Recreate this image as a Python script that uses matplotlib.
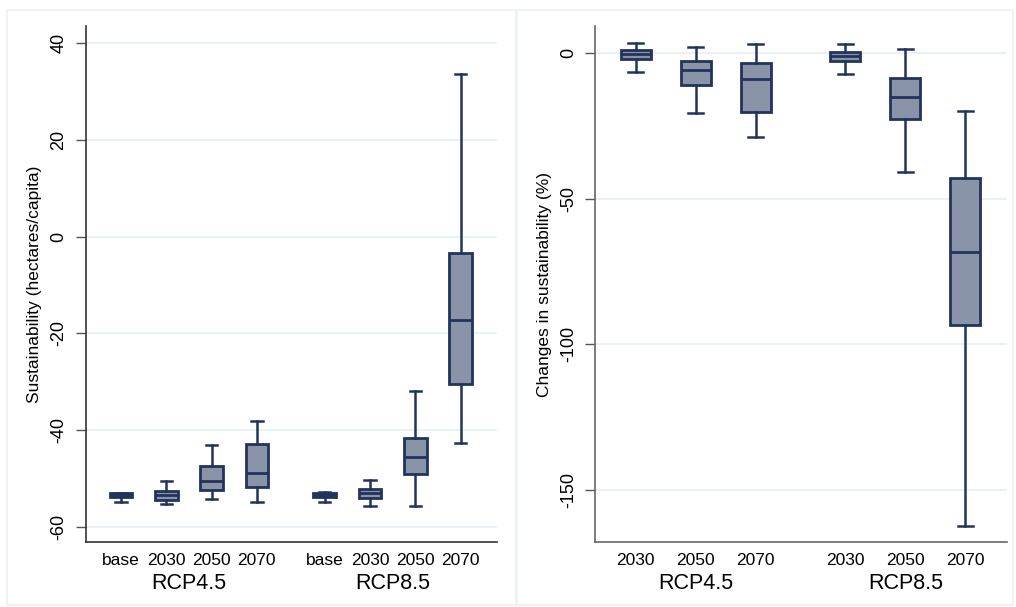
import matplotlib.pyplot as plt
from matplotlib.patches import Rectangle

plt.rcParams['font.family'] = ['Liberation Sans', 'DejaVu Sans']

# left panel: sustainability (hectares/capita)
left_labels = ["base", "2030", "2050", "2070", "base", "2030", "2050", "2070"]
left_pos = [1, 2, 3, 4, 5.5, 6.5, 7.5, 8.5]
left_whislo = [-54.8, -55.2, -54.3, -54.9, -54.8, -55.6, -55.6, -42.7]
left_q1 = [-53.9, -54.4, -52.3, -51.8, -53.8, -54.0, -49.05, -30.4]
left_med = [-53.5, -53.5, -50.5, -48.8, -53.5, -53.05, -45.6, -17.2]
left_q3 = [-53.1, -52.6, -47.5, -42.9, -53.1, -52.2, -41.7, -3.4]
left_whishi = [-53.0, -50.5, -43.1, -38.2, -52.9, -50.3, -32.0, 33.7]

# right panel: changes in sustainability (%)
right_labels = ["2030", "2050", "2070", "2030", "2050", "2070"]
right_pos = [1, 2, 3, 4.5, 5.5, 6.5]
right_whislo = [-6.3, -20.5, -28.6, -7.0, -40.9, -162.5]
right_q1 = [-2.0, -11.0, -20.1, -2.7, -22.7, -93.3]
right_med = [-0.2, -5.7, -8.9, -0.9, -14.9, -68.1]
right_q3 = [1.1, -2.7, -3.4, 0.6, -8.4, -42.9]
right_whishi = [3.6, 2.2, 3.1, 3.1, 1.4, -19.8]

groups = ["RCP4.5", "RCP8.5"]

fill = "#8a94a8"
edge = "#22335c"
grid = "#e6eff2"


def make_stats(lo, q1, med, q3, hi):
    return [dict(whislo=a, q1=b, med=c, q3=d, whishi=e, fliers=[])
            for a, b, c, d, e in zip(lo, q1, med, q3, hi)]


def draw_panel(ax, stats, pos, labels, yticks, ylim, xlim, ylabel, group_x, spine_col):
    ax.bxp(stats, positions=pos, widths=0.5, patch_artist=True,
           boxprops=dict(facecolor=fill, edgecolor=edge, linewidth=2),
           medianprops=dict(color=edge, linewidth=2),
           whiskerprops=dict(color=edge, linewidth=1.8),
           capprops=dict(color=edge, linewidth=1.8),
           capwidths=0.25)
    ax.set_ylim(*ylim)
    ax.set_xlim(*xlim)
    ax.set_yticks(yticks)
    ax.set_yticklabels([str(t) for t in yticks], rotation=90, va="center", fontsize=13)
    ax.set_xticks(pos)
    ax.set_xticklabels(labels, fontsize=12.5)
    ax.tick_params(axis="x", length=0, pad=8)
    ax.tick_params(axis="y", length=7, width=1, color="#555555", pad=6)
    ax.yaxis.grid(True, color=grid, linewidth=1.2)
    ax.set_axisbelow(True)
    for s in ["top", "right"]:
        ax.spines[s].set_visible(False)
    for s in ["left", "bottom"]:
        ax.spines[s].set_color(spine_col)
        ax.spines[s].set_linewidth(1.2)
    ax.set_ylabel(ylabel, fontsize=12.5, labelpad=6)
    for gx, g in zip(group_x, groups):
        ax.annotate(g, xy=(gx, 0), xycoords=("data", "axes fraction"),
                    xytext=(0, -29.5), textcoords="offset points",
                    ha="center", va="center", fontsize=15.5)


fig = plt.figure(figsize=(10.16, 6.07), dpi=100)
fig.patch.set_facecolor("white")

# faint panel frames
fig.patches.append(Rectangle((7 / 1016, 2 / 607), 509 / 1016, 595 / 607,
                             transform=fig.transFigure, fill=False,
                             edgecolor="#eef3f5", linewidth=1.5))
fig.patches.append(Rectangle((517 / 1016, 2 / 607), 496 / 1016, 595 / 607,
                             transform=fig.transFigure, fill=False,
                             edgecolor="#eef3f5", linewidth=1.5))

ax1 = fig.add_axes([0.0843, 0.1066, 0.4048, 0.851])
ax2 = fig.add_axes([0.5856, 0.1066, 0.4052, 0.851])

draw_panel(ax1, make_stats(left_whislo, left_q1, left_med, left_q3, left_whishi),
           left_pos, left_labels, [40, 20, 0, -20, -40, -60], (-63.2, 43.6),
           (0.22, 9.3), "Sustainability (hectares/capita)", [2.5, 7.0], "#333333")
draw_panel(ax2, make_stats(right_whislo, right_q1, right_med, right_q3, right_whishi),
           right_pos, right_labels, [0, -50, -100, -150], (-168.0, 9.5),
           (0.32, 7.19), "Changes in sustainability (%)", [2.0, 5.5], "#666666")

fig.savefig("out.png", dpi=100)
